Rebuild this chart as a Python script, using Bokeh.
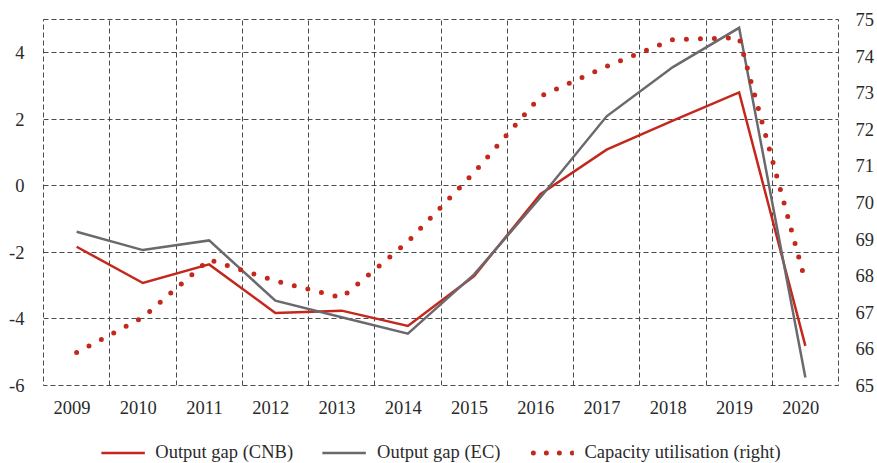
from bokeh.plotting import figure
from bokeh.layouts import column
from bokeh.models import Range1d, LinearAxis, FixedTicker, Legend, LegendItem
from bokeh.embed import file_html
from bokeh.resources import INLINE

# ---- data -------------------------------------------------------------
years = [2009, 2010, 2011, 2012, 2013, 2014, 2015, 2016, 2017, 2018, 2019, 2020]
gap_cnb = [-1.83, -2.92, -2.36, -3.82, -3.75, -4.21, -2.71, -0.25, 1.09, 1.96, 2.81, -4.81]
gap_ec = [-1.38, -1.93, -1.64, -3.45, -3.95, -4.44, -2.66, -0.35, 2.09, 3.57, 4.75, -5.76]
capacity = [65.90, 66.86, 68.44, 67.86, 67.40, 68.93, 70.82, 72.90, 73.72, 74.45, 74.50, 67.84]
left_ticks = [-6, -4, -2, 0, 2, 4]
right_ticks = [65, 66, 67, 68, 69, 70, 71, 72, 73, 74, 75]
names = ["Output gap (CNB)", "Output gap (EC)", "Capacity utilisation (right)"]

RED = "#C4281C"
GREY = "#6A6A6E"
GRID = "#4a4a4a"
TXT = "#2a2a2a"
FONT = "Liberation Serif"
FS = "18.5px"
W = 877

p = figure(width=W, height=419, output_backend="svg", toolbar_location=None,
           x_range=Range1d(years[0] - 0.5, years[-1] + 0.5),
           y_range=Range1d(-6, 5),
           min_border_left=43, min_border_right=37, min_border_top=19,
           min_border_bottom=34)
p.extra_y_ranges = {"right": Range1d(65, 75)}
p.background_fill_color = "white"
p.border_fill_color = "white"

# frame + grid (dashed)
p.outline_line_color = GRID
p.outline_line_dash = "5 3"
p.outline_line_width = 1
p.xgrid.ticker = FixedTicker(ticks=[y + 0.5 for y in years[:-1]])
p.ygrid.ticker = FixedTicker(ticks=[t for t in left_ticks if t > -6])
for g in (p.xgrid, p.ygrid):
    g.grid_line_color = GRID
    g.grid_line_dash = "5 3"
    g.grid_line_width = 1

# x axis
SHIFT = -0.07
xt = [round(y + SHIFT, 2) for y in years]
xa = p.xaxis[0]
xa.ticker = FixedTicker(ticks=xt)
xa.major_label_overrides = {t: str(y) for t, y in zip(xt, years)}
xa.major_label_standoff = 15

# left axis
ya = p.yaxis[0]
ya.ticker = FixedTicker(ticks=left_ticks)
ya.major_label_overrides = {t: str(t) for t in left_ticks}
ya.major_label_standoff = 19

# right axis
ra = LinearAxis(y_range_name="right", ticker=FixedTicker(ticks=right_ticks))
ra.major_label_standoff = 17
p.add_layout(ra, "right")

for ax in (xa, ya, ra):
    ax.axis_line_color = None
    ax.major_tick_line_color = None
    ax.minor_tick_line_color = None
    ax.major_tick_out = 0
    ax.major_tick_in = 0
    ax.major_label_text_font = FONT
    ax.major_label_text_font_size = FS
    ax.major_label_text_color = TXT

# series
p.line(years, gap_cnb, line_color=RED, line_width=2.5, line_join="miter")
p.line(years, gap_ec, line_color=GREY, line_width=2.5, line_join="miter")
p.line(years, capacity, y_range_name="right", line_color=RED, line_width=5,
       line_dash="0 14", line_cap="round")

# ---- legend strip below the chart ---------------------------------------
# (same series, drawn outside this strip's visible range: only legend shows)
q = figure(width=W, height=44, output_backend="svg", toolbar_location=None,
           x_range=Range1d(0, 1), y_range=Range1d(0, 1),
           x_axis_location=None, y_axis_location=None,
           min_border_left=43, min_border_right=37, min_border_top=0,
           min_border_bottom=0)
q.outline_line_color = None
q.xgrid.visible = False
q.ygrid.visible = False
q.background_fill_color = "white"
q.border_fill_color = "white"
l1 = q.line(years, gap_cnb, line_color=RED, line_width=2.5)
l2 = q.line(years, gap_ec, line_color=GREY, line_width=2.5)
l3 = q.line(years, capacity, line_color=RED, line_width=5, line_dash="0 13",
            line_dash_offset=10, line_cap="round")
legend = Legend(items=[LegendItem(label=names[0], renderers=[l1]),
                       LegendItem(label=names[1], renderers=[l2]),
                       LegendItem(label=names[2], renderers=[l3])],
                location="bottom_center", orientation="horizontal",
                spacing=29, label_standoff=11, glyph_width=44, glyph_height=21,
                label_height=21, padding=0, margin=0,
                border_line_color=None, background_fill_alpha=0,
                label_text_font=FONT, label_text_font_size=FS,
                label_text_color=TXT)
q.add_layout(legend)

layout = column(p, q, spacing=0)
open("out.html", "w").write(file_html(layout, INLINE))
